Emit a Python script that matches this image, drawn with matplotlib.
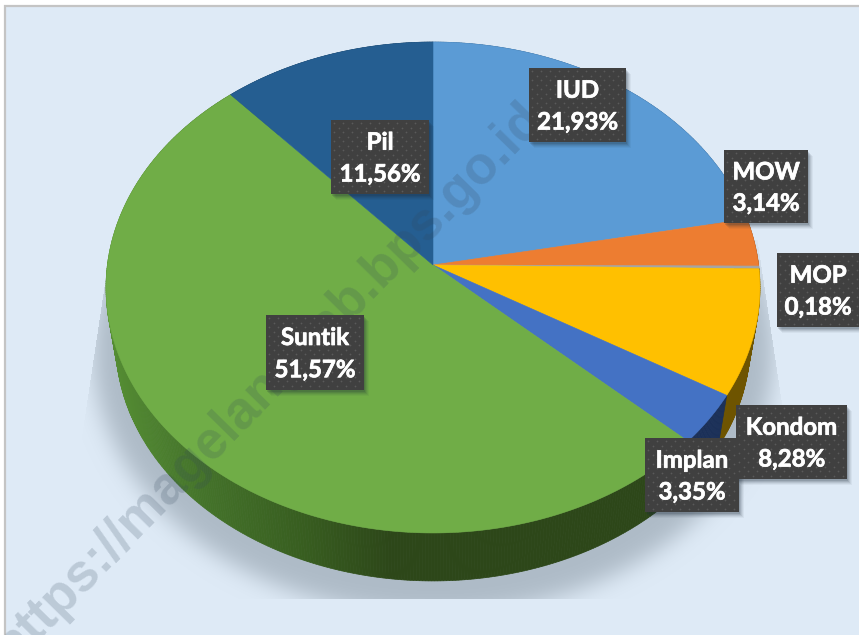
import numpy as np
import matplotlib
matplotlib.use("Agg")
import matplotlib.pyplot as plt
import matplotlib.patheffects as pe
from matplotlib.patches import Polygon, Rectangle
from matplotlib.colors import to_rgb

# ---- data ----
categories = ["IUD", "MOW", "MOP", "Kondom", "Implan", "Suntik", "Pil"]
values = [21.93, 3.14, 0.18, 8.28, 3.35, 51.57, 11.56]
colors = ["#5b9bd5", "#ed7d31", "#a5a5a5", "#ffc000", "#4472c4", "#70ad47", "#255e91"]
wall_colors = ["#2f5f8a", "#8a4a1c", "#666666", "#6e5400", "#1b3058", "#2d4719", "#163a5a"]
watermark = "https://magelangkab.bps.go.id"

# ---- layout (pixels) ----
W, H = 859, 635
CX, CY = 433.0, 265.0
A, B, K = 325.6, 243.4, 0.0917
WALL_S, WALL_CY = 0.97, 321.0
label_boxes = {
    "IUD": (529, 68, 626, 142), "MOW": (724, 150, 808, 223), "MOP": (777, 253, 859, 327),
    "Kondom": (736, 405, 847, 479), "Implan": (645, 438, 739, 512),
    "Suntik": (266, 315, 364, 390), "Pil": (331, 120, 429, 194),
}

def proj(theta, s=1.0, cy=CY):
    u, v = np.sin(theta), np.cos(theta)
    w = 1 + K * v
    return CX + s * A * u / w, cy - s * B * v / w

def arc(a0, a1, s=1.0, cy=CY):
    n = max(2, int(abs(a1 - a0) / np.radians(0.4)) + 2)
    return proj(np.linspace(a0, a1, n), s, cy)

def blur(img, sigma):
    r = int(3 * sigma)
    k = np.exp(-0.5 * (np.arange(-r, r + 1) / sigma) ** 2)
    k /= k.sum()
    img = np.apply_along_axis(lambda m: np.convolve(m, k, mode="same"), 0, img)
    return np.apply_along_axis(lambda m: np.convolve(m, k, mode="same"), 1, img)

fig = plt.figure(figsize=(W / 100, H / 100), dpi=100, facecolor="white")
ax = fig.add_axes([0, 0, 1, 1])
ax.set_xlim(0, W)
ax.set_ylim(H, 0)
ax.axis("off")

# panel
ax.add_patch(Rectangle((5, 6), W, H, facecolor="#deeaf6", edgecolor="#c4c4c4", lw=1.6, zorder=0))

# soft shadow
yy, xx = np.mgrid[0:H, 0:W]
ex, ey = 340.0, 262.0
mask = (((xx - CX) / ex) ** 2 + ((yy - 352.0) / ey) ** 2 <= 1).astype(float)
al = np.clip(blur(mask, 11.0), 0, 1)
xl = 102 - (yy - 300) * 0.15
xr = 757 + (yy - 240) * 0.15
al[(xx < xl) | (xx > xr) | (yy >= 599) | (yy < 240)] = 0
rgba = np.zeros((H, W, 4))
rgba[..., :3] = to_rgb("#aebbc7")
rgba[..., 3] = al
ax.imshow(rgba, extent=(0, W, H, 0), aspect="auto", zorder=1, interpolation="bilinear")

# slices
frac = np.array(values) / sum(values)
edges = np.concatenate([[0], np.cumsum(frac)]) * 2 * np.pi

green_x = [110, 200, 300, 390]
green_c = np.array([to_rgb(c) for c in ["#548c33", "#44732a", "#385e20", "#2d4719"]])

# side wall
for i, name in enumerate(categories):
    t = np.arange(edges[i], edges[i + 1] + np.radians(0.5), np.radians(0.5))
    t[-1] = edges[i + 1]
    for a0, a1 in zip(t[:-1], t[1:]):
        x0, y0 = proj(a0)
        x1, y1 = proj(a1)
        x2, y2 = proj(a1, WALL_S, WALL_CY)
        x3, y3 = proj(a0, WALL_S, WALL_CY)
        if name == "Suntik":
            xm = (x0 + x1) / 2
            col = [np.interp(xm, green_x, green_c[:, k]) for k in range(3)]
        else:
            col = wall_colors[i]
        ax.add_patch(Polygon([(x0, y0), (x1, y1), (x2, y2), (x3, y3)], closed=True,
                             facecolor=col, edgecolor=col, lw=0.5, zorder=2))

# top face
for i, name in enumerate(categories):
    x, y = arc(edges[i], edges[i + 1])
    pts = np.column_stack([np.r_[CX, x], np.r_[CY, y]])
    ax.add_patch(Polygon(pts, closed=True, facecolor=colors[i], edgecolor=colors[i], lw=0.4, zorder=3))

# watermark
ax.text(13, 664, watermark, rotation=45.6, rotation_mode="anchor", ha="left", va="baseline",
        family="Liberation Sans", fontweight="bold", fontsize=38, color="#33475b", alpha=0.2,
        zorder=4, clip_on=True)

# labels
bold = [pe.withStroke(linewidth=0.5, foreground="white")]
for name, v in zip(categories, values):
    x0, y0, x1, y1 = label_boxes[name]
    w, h = x1 - x0, y1 - y0
    for d, a in [(6, 0.05), (5, 0.07), (4, 0.09), (3, 0.12), (2, 0.15)]:
        ax.add_patch(Rectangle((x0 + d - 1, y0 + d), w, h, facecolor="#1c2a38", edgecolor="none", alpha=a, zorder=5))
    ax.add_patch(Rectangle((x0, y0), w, h, facecolor="#404040", edgecolor="none", zorder=6))
    dx, dy = [], []
    for r, py in enumerate(np.arange(y0 + 3, y1 - 1, 4.5)):
        for px in np.arange(x0 + 3 + (r % 2) * 4.5, x1 - 1, 9):
            dx.append(px)
            dy.append(py)
    ax.scatter(dx, dy, s=1.6, color="#5a5a5a", linewidths=0, zorder=7)
    xc = (x0 + x1) / 2
    ax.text(xc, y0 + 0.30 * h, name, ha="center", va="center", color="white", path_effects=bold,
            family="Lato", fontweight="bold", fontsize=17.3, zorder=8)
    ax.text(xc, y0 + 0.73 * h, f"{v:.2f}%".replace(".", ","), ha="center", va="center", color="white",
            path_effects=bold, family="Lato", fontweight="bold", fontsize=17.3, zorder=8)

fig.savefig("out.png", dpi=100)
